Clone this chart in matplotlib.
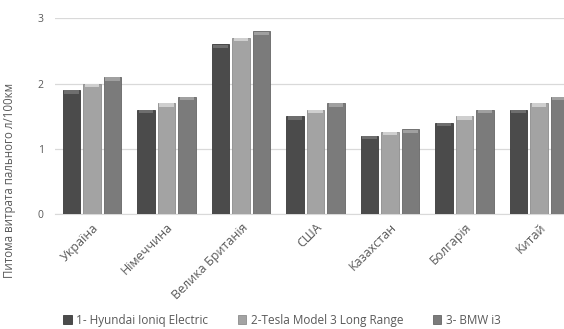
import matplotlib.pyplot as plt
import numpy as np

countries = ['Україна', 'Німеччина', 'Велика Британія', 'США', 'Казахстан', 'Болгарія', 'Китай']
hyundai = [1.9, 1.6, 2.6, 1.5, 1.2, 1.4, 1.6]
tesla = [2.0, 1.7, 2.7, 1.6, 1.26, 1.5, 1.7]
bmw = [2.1, 1.8, 2.8, 1.7, 1.3, 1.6, 1.8]
names = ['1- Hyundai Ioniq Electric', '2-Tesla Model 3 Long Range', '3- BMW i3']

plt.rcParams['font.family'] = ['Open Sans', 'DejaVu Sans']
txt = '#595959'

fig = plt.figure(figsize=(5.64, 3.29), dpi=100)
# the original picture is cut on the right, so the axes run past the edge
ax = fig.add_axes([54.75 / 564, 115 / 329, 521.5 / 564, 195.7 / 329])

x = np.arange(len(countries))
cols = ['#4b4b4b', '#a3a3a3', '#7b7b7b']
caps = ['#6e6e6e', '#cfcfcf', '#a0a0a0']
edges = ['#3a3a3a', '#8c8c8c', '#666666']
bars = []
for k, (vals, c, cap, ec) in enumerate(zip([hyundai, tesla, bmw], cols, caps, edges)):
    pos = x + (k - 1) * 0.275
    b = ax.bar(pos, vals, 0.235, color=c, edgecolor=ec, linewidth=0.6, zorder=3)
    bars.append(b)
    # light bevel on top of each bar
    v = np.array(vals)
    ax.bar(pos, [0.05] * len(vals), 0.2, bottom=v - 0.055, color=cap,
           linewidth=0, zorder=4)

ax.set_xlim(-0.5, len(countries) - 0.5)
ax.set_ylim(0, 3)
ax.set_yticks([0, 1, 2, 3])
ax.grid(axis='y', color='#d9d9d9', linewidth=0.9, zorder=0)
for s in ['top', 'right', 'left']:
    ax.spines[s].set_visible(False)
ax.spines['bottom'].set_color('#d9d9d9')
ax.tick_params(axis='both', length=0, colors=txt, labelsize=7.5)
ax.tick_params(axis='y', pad=8)
ax.tick_params(axis='x', pad=5)
ax.set_xticks(x)
ax.set_xticklabels(countries, rotation=45, ha='right', rotation_mode='anchor', fontsize=9)
ax.set_ylabel('Питома витрата пального л/100км', color=txt, fontsize=8.3)
ax.yaxis.set_label_coords(-0.074, 0.17)

fig.legend(bars, names, loc='lower center', bbox_to_anchor=(0.5, -0.025), ncol=3,
           frameon=False, fontsize=8.5, labelcolor=txt, handlelength=0.7, handleheight=0.7,
           columnspacing=2.5, handletextpad=0.4)

fig.savefig('out.png', dpi=100)
